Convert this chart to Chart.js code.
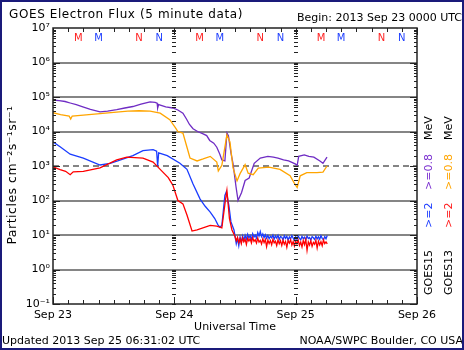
<!DOCTYPE html>
<html>
<head>
<meta charset="utf-8">
<script src="https://cdn.jsdelivr.net/npm/chart.js@4.4.1/dist/chart.umd.min.js"></script>
<style>
  html, body { margin: 0; padding: 0; background: #fff; }
  canvas { display: block; }
</style>
</head>
<body>
<canvas id="fluxChart" width="464" height="350"></canvas>
<script>
// GOES electron flux, x = hours since 2013 Sep 23 00:00 UT
const dayHours = [0, 24, 48, 72];
const dayLabels = ['Sep 23', 'Sep 24', 'Sep 25', 'Sep 26'];
const decades = [-1, 0, 1, 2, 3, 4, 5, 6, 7];

// [hour, flux] pairs
const g15Low = [ // GOES15 >=0.8 MeV
  [0, 8.2e4], [1.2, 7.8e4], [2.4, 7.4e4], [3.4, 6.7e4], [4.6, 6.0e4], [5.9, 5.2e4], [7.4, 4.4e4],
  [9.3, 3.7e4], [10.8, 3.9e4], [12.6, 4.3e4], [14.2, 4.8e4], [15.8, 5.3e4], [17.4, 6.2e4],
  [19.2, 7.2e4], [20.2, 7.0e4], [20.6, 6.6e4], [20.7, 4.8e4], [20.9, 6.0e4], [22.3, 5.2e4],
  [23.7, 4.8e4], [24.7, 4.2e4], [25.7, 3.4e4], [26.4, 2.3e4], [27.0, 1.6e4], [27.7, 1.2e4],
  [28.6, 1.0e4], [29.7, 8.5e3], [30.4, 7.6e3], [31, 5.5e3], [31.8, 4.6e3], [32.4, 3.5e3],
  [33.0, 2.2e3], [33.4, 1.5e3], [34.0, 1.4e3], [34.4, 9e3], [34.7, 7.5e3], [35.2, 2.4e3],
  [35.6, 1.2e3], [36.2, 250], [36.6, 100], [37.3, 170], [38.0, 380], [38.8, 450], [39.8, 1.2e3],
  [41.0, 1.7e3], [42.5, 1.9e3], [43.6, 1.8e3], [44.5, 1.7e3], [45.6, 1.5e3], [46.6, 1.4e3],
  [47.9, 1.15e3], [48.3, 1.05e3], [48.6, 1.9e3], [49.7, 2.1e3], [50.6, 1.9e3], [51.6, 1.8e3],
  [52.8, 1.4e3], [53.4, 1.2e3], [54.2, 1.8e3]
];
const g13Low = [ // GOES13 >=0.8 MeV
  [0, 3.5e4], [1.5, 3.1e4], [3.2, 2.8e4], [3.5, 2.3e4], [3.8, 2.8e4], [6, 3.0e4], [9.3, 3.3e4],
  [12, 3.6e4], [14.8, 3.9e4], [17, 4.0e4], [19.2, 3.9e4], [21.2, 3.4e4], [23.1, 2.2e4],
  [24.2, 1.3e4], [24.7, 1.0e4], [25.7, 9e3], [26.5, 3.5e3], [27.1, 1.7e3], [28.5, 1.4e3],
  [29.7, 1.6e3], [31.1, 1.9e3], [32.4, 1.3e3], [32.7, 720], [33.4, 1.05e3], [34.4, 8e3],
  [35.0, 5e3], [35.6, 900], [36.4, 370], [37.0, 600], [38.0, 1.1e3], [38.6, 620], [39.6, 560],
  [40.6, 870], [42.7, 930], [44.9, 800], [46.9, 520], [47.9, 290], [48.3, 240], [48.9, 520],
  [50.2, 640], [52.2, 640], [53.4, 660], [54.2, 1.0e3]
];
const g15High = [ // GOES15 >=2 MeV
  [0, 5e3], [1.4, 3.6e3], [3.4, 2.2e3], [6, 1.7e3], [9.3, 1.07e3], [11.3, 1.2e3], [12.8, 1.4e3],
  [15.8, 2.0e3], [17.8, 2.8e3], [19.8, 3.0e3], [20.5, 2.7e3], [20.7, 1.0e3], [20.9, 2.4e3],
  [22.6, 2.0e3], [25.1, 1.2e3], [26.5, 800], [27.7, 300], [29.1, 110], [30.1, 68], [31.1, 46],
  [32.0, 30], [32.6, 20], [33.0, 17], [33.4, 19], [34.0, 140], [34.3, 180], [34.8, 70],
  [35.2, 24], [35.8, 14]
];
const g13High = [ // GOES13 >=2 MeV
  [0, 950], [1.4, 780], [2.5, 700], [3.4, 560], [4.0, 680], [6, 700], [9.3, 880], [12.6, 1.5e3],
  [14.6, 1.8e3], [17.8, 1.7e3], [19.8, 1.3e3], [21.2, 800], [22.8, 460], [23.7, 280],
  [24.7, 100], [25.7, 80], [26.5, 38], [27.5, 13], [28.5, 14], [31.1, 19], [32.4, 18],
  [33.4, 16], [34.1, 100], [34.4, 195], [34.9, 30], [35.4, 14], [36.0, 9]
];

// >=2 MeV readings at the noise floor, one every 15 min from noiseStart
const noiseStart = 36.25;
const noiseStep = 0.25;
const g15HighFloor = [
  5.6, 7.9, 4.9, 8.6, 6.2, 9.4, 7.0, 9.8, 7.6, 10.5, 8.2, 9.6, 7.3, 10.9, 8.7, 9.9, 8.1, 11.8,
  9.3, 12.6, 9.0, 10.7, 8.4, 10.2, 8.0, 9.7, 7.8, 9.1, 8.3, 10.0, 7.6, 9.4, 8.1, 9.8, 7.4, 9.0,
  8.6, 7.2, 9.5, 8.0, 9.2, 7.1, 8.8, 7.7, 9.6, 8.2, 7.0, 8.9, 7.5, 9.3, 8.0, 7.3, 9.1, 7.8,
  8.6, 7.2, 9.4, 7.9, 8.5, 7.1, 9.0, 8.3, 7.4, 9.2, 7.7, 8.8, 7.5, 9.5, 8.0, 7.3, 8.9, 7.8, 9.6
];
const g13HighFloor = [
  6.8, 8.5, 6.0, 7.9, 5.6, 8.2, 6.4, 7.6, 5.3, 8.0, 6.7, 7.8, 5.9, 8.4, 6.5, 7.3, 5.8, 8.1,
  6.2, 7.0, 5.5, 7.7, 6.0, 7.4, 4.6, 7.1, 5.7, 6.9, 5.2, 7.5, 5.9, 6.6, 4.9, 7.2, 5.6, 6.8,
  5.0, 7.0, 5.4, 6.5, 4.4, 6.9, 5.8, 7.3, 5.1, 6.4, 4.8, 6.7, 5.5, 7.1, 5.0, 6.2, 4.5, 6.9,
  5.3, 7.4, 3.6, 6.3, 5.1, 6.8, 4.7, 6.1, 5.4, 7.0, 4.2, 6.6, 5.2, 6.4, 4.9, 7.2, 5.6, 6.3, 5.5
];

// local midnight (M) and noon (N) passes, hours
const g13Midnight = [5, 29, 53];
const g13Noon = [17, 41, 65];
const g15Midnight = [9, 33, 57];
const g15Noon = [21, 45, 69];

const FONT = 'DejaVu Sans';
const SUP = { '-': '\u207B', '0': '\u2070', '1': '\u00B9', '2': '\u00B2', '3': '\u00B3',
  '4': '\u2074', '5': '\u2075', '6': '\u2076', '7': '\u2077', '8': '\u2078', '9': '\u2079' };
const sup = s => String(s).split('').map(c => SUP[c]).join('');

const withFloor = (series, floor) =>
  series.concat(floor.map((v, i) => [noiseStart + i * noiseStep, v]));

const goesAxes = {
  id: 'goesAxes',
  beforeDatasetsDraw(chart) {
    const { ctx, chartArea: a, scales: { y } } = chart;
    ctx.save();
    ctx.strokeStyle = '#5c5c5c';
    ctx.lineWidth = 1.6;
    decades.slice(1, -1).forEach(d => {
      const py = Math.round(y.getPixelForValue(Math.pow(10, d)));
      ctx.setLineDash(d === 3 ? [6, 4] : []);
      ctx.beginPath();
      ctx.moveTo(a.left, py);
      ctx.lineTo(a.right, py);
      ctx.stroke();
    });
    ctx.restore();
  },
  afterDatasetsDraw(chart) {
    const { ctx, chartArea: a, scales: { x, y } } = chart;
    ctx.save();
    ctx.strokeStyle = '#222';
    ctx.lineWidth = 1;
    ctx.beginPath();
    // log minor ticks on both sides and along the day boundaries
    for (let d = -1; d < 7; d++) {
      for (let k = 1; k < 10; k++) {
        const py = Math.round(y.getPixelForValue(k * Math.pow(10, d))) + 0.5;
        const len = k === 1 ? 7 : 3;
        ctx.moveTo(a.left, py); ctx.lineTo(a.left + len, py);
        ctx.moveTo(a.right, py); ctx.lineTo(a.right - len, py);
        dayHours.slice(1, -1).forEach(h => {
          const px = Math.round(x.getPixelForValue(h));
          ctx.moveTo(px - 2, py); ctx.lineTo(px + 2, py);
        });
      }
    }
    // 3-hour ticks top and bottom
    for (let h = 0; h <= 72; h += 3) {
      const px = Math.round(x.getPixelForValue(h)) + 0.5;
      const len = h % 24 === 0 ? 7 : 4;
      ctx.moveTo(px, a.bottom); ctx.lineTo(px, a.bottom - len);
      ctx.moveTo(px, a.top); ctx.lineTo(px, a.top + len);
    }
    ctx.stroke();
    ctx.lineWidth = 1.5;
    ctx.strokeRect(a.left, a.top, a.right - a.left, a.bottom - a.top);
    ctx.restore();
  },
  afterDraw(chart) {
    const { ctx, chartArea: a, scales: { x } } = chart;
    ctx.save();
    ctx.fillStyle = '#000';
    ctx.textBaseline = 'middle';

    ctx.font = '12px "' + FONT + '"';
    ctx.letterSpacing = '0.6px';
    ctx.textAlign = 'left';
    ctx.fillText('GOES Electron Flux (5 minute data)', 9, 15);
    ctx.letterSpacing = '0px';
    ctx.font = '11px "' + FONT + '"';
    ctx.textAlign = 'right';
    ctx.fillText('Begin: 2013 Sep 23 0000 UTC', 462, 18);
    ctx.textAlign = 'left';
    ctx.fillText('Updated 2013 Sep 25 06:31:02 UTC', 2, 341);
    ctx.textAlign = 'right';
    ctx.fillText('NOAA/SWPC Boulder, CO USA', 463, 341);
    ctx.textAlign = 'center';
    ctx.fillText('Universal Time', (a.left + a.right) / 2, 327);

    // M / N markers
    ctx.font = '10px "' + FONT + '"';
    const mark = (hours, txt, color) => {
      ctx.fillStyle = color;
      hours.forEach(h => ctx.fillText(txt, x.getPixelForValue(h), 38));
    };
    mark(g13Midnight, 'M', '#ff2020');
    mark(g13Noon, 'N', '#ff2020');
    mark(g15Midnight, 'M', '#2040ff');
    mark(g15Noon, 'N', '#2040ff');

    // y axis title
    ctx.fillStyle = '#000';
    ctx.font = '12.5px "' + FONT + '"';
    ctx.save();
    ctx.translate(13, 175);
    ctx.rotate(-Math.PI / 2);
    ctx.letterSpacing = '0.5px';
    ctx.fillText('Particles cm' + sup(-2) + 's' + sup(-1) + 'sr' + sup(-1), 0, 0);
    ctx.restore();

    // satellite / channel key, read bottom to top
    ctx.font = '11px "' + FONT + '"';
    const key = (cx, parts) => {
      ctx.save();
      ctx.translate(cx, 0);
      ctx.rotate(-Math.PI / 2);
      ctx.textAlign = 'left';
      parts.forEach(([txt, color, start]) => {
        ctx.fillStyle = color;
        ctx.fillText(txt, -start, 0);
      });
      ctx.restore();
    };
    key(429, [['GOES15', '#000', 295], ['>=2', '#2040ff', 228], ['>=0.8', '#7a2fd0', 190], ['MeV', '#000', 140]]);
    key(449, [['GOES13', '#000', 295], ['>=2', '#ff2020', 228], ['>=0.8', '#ffa500', 190], ['MeV', '#000', 140]]);

    // outer frame
    ctx.strokeStyle = '#1a1a7a';
    ctx.lineWidth = 2;
    ctx.strokeRect(1, 1, 462, 348);
    ctx.restore();
  }
};

new Chart(document.getElementById('fluxChart'), {
  type: 'line',
  data: {
    datasets: [
      { label: 'GOES13 >=2 MeV', data: withFloor(g13High, g13HighFloor), borderColor: '#ff0000' },
      { label: 'GOES15 >=2 MeV', data: withFloor(g15High, g15HighFloor), borderColor: '#1a3cff' },
      { label: 'GOES13 >=0.8 MeV', data: g13Low, borderColor: '#ffa500' },
      { label: 'GOES15 >=0.8 MeV', data: g15Low, borderColor: '#6f2cc4' }
    ]
  },
  options: {
    responsive: false,
    animation: false,
    layout: { padding: { left: 0, top: 28, right: 47, bottom: 0 } },
    plugins: { legend: { display: false }, tooltip: { enabled: false } },
    elements: { point: { radius: 0 }, line: { borderWidth: 1.3, tension: 0 } },
    scales: {
      x: {
        type: 'linear', min: 0, max: 72,
        grid: { display: false, drawTicks: false },
        border: { display: false },
        afterBuildTicks: s => { s.ticks = dayHours.map(v => ({ value: v })); },
        afterFit: s => { s.height = 46; },
        ticks: {
          autoSkip: false, maxRotation: 0, padding: 5, color: '#000',
          font: { family: FONT, size: 11 },
          callback: v => dayLabels[dayHours.indexOf(v)]
        }
      },
      y: {
        type: 'logarithmic', min: 0.1, max: 1e7,
        grid: { display: false, drawTicks: false },
        border: { display: false },
        afterBuildTicks: s => { s.ticks = decades.map(d => ({ value: Math.pow(10, d) })); },
        afterFit: s => { s.width = 53; },
        ticks: {
          autoSkip: false, padding: 3, color: '#000',
          font: { family: FONT, size: 11 },
          callback: v => '10' + sup(Math.round(Math.log10(v)))
        }
      }
    }
  },
  plugins: [goesAxes]
});
</script>
</body>
</html>
